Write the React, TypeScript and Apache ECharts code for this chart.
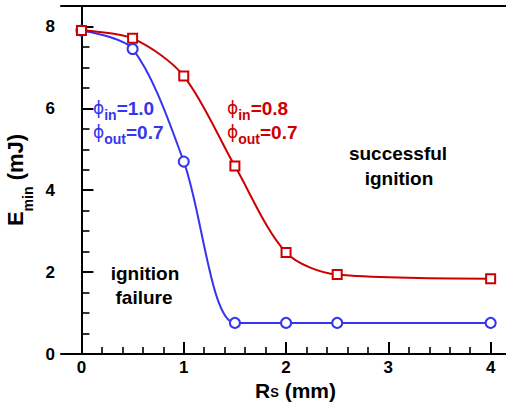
import React, { useEffect, useRef } from 'react';
import * as echarts from 'echarts';

const rsValues = [0, 0.5, 1, 1.5, 2, 2.5, 4];
const eminBlue = [7.9, 7.45, 4.7, 0.76, 0.76, 0.76, 0.76];
const eminRed = [7.9, 7.71, 6.79, 4.59, 2.48, 1.94, 1.84];
const xMajorTicks = [0, 1, 2, 3, 4];
const xMinorTicks = [0.2, 0.4, 0.6, 0.8, 1.2, 1.4, 1.6, 1.8, 2.2, 2.4, 2.6, 2.8, 3.2, 3.4, 3.6, 3.8];
const yMajorTicks = [0, 2, 4, 6, 8];
const yMinorTicks = [0.5, 1, 1.5, 2.5, 3, 3.5, 4.5, 5, 5.5, 6.5, 7, 7.5];

const BLUE = '#3535ef';
const RED = '#cc0000';
const FONT = '"Liberation Sans", Arial, sans-serif';
const X_MIN = -0.2;
const X_MAX = 4.15;
const Y_MIN = 0;
const Y_MAX = 8.5;

function phiRich(color: string) {
  return {
    p: { fontFamily: '"DejaVu Sans", sans-serif', fontSize: 17, fontWeight: 'normal', lineHeight: 28, fill: color },
    s: { fontFamily: FONT, fontSize: 14, fontWeight: 'bold', lineHeight: 14, verticalAlign: 'bottom', fill: color },
    b: { fontFamily: FONT, fontSize: 19, fontWeight: 'bold', lineHeight: 28, fill: color },
  };
}

function annot(text: string, x: number, y: number, color: string) {
  return {
    type: 'text',
    x,
    y,
    z: 10,
    style: { text, rich: phiRich(color), fill: color, align: 'left', verticalAlign: 'middle' },
  };
}

function label(text: string, x: number, y: number) {
  return {
    type: 'text',
    x,
    y,
    z: 10,
    style: {
      text,
      fill: '#000',
      fontFamily: FONT,
      fontSize: 19,
      fontWeight: 'bold',
      align: 'center',
      verticalAlign: 'middle',
    },
  };
}

export default function App() {
  const ref = useRef<HTMLDivElement>(null);
  useEffect(() => {
    if (!ref.current) return;
    const chart = echarts.init(ref.current, undefined, { renderer: 'svg' });
    const axisLineStyle = { color: '#000', width: 2 };
    const option: any = {
      animation: false,
      backgroundColor: '#fff',
      grid: { left: 61, right: 0, top: 6, bottom: 60, containLabel: false, outerBoundsMode: 'none' },
      xAxis: [
        {
          type: 'value',
          min: X_MIN,
          max: X_MAX,
          position: 'bottom',
          axisLine: { show: true, lineStyle: axisLineStyle },
          axisTick: { show: true, inside: true, length: 12, customValues: xMajorTicks, lineStyle: { color: '#000', width: 2 } },
          axisLabel: {
            customValues: xMajorTicks,
            color: '#000',
            fontFamily: FONT,
            fontSize: 17,
            fontWeight: 'bold',
            lineHeight: 14,
            margin: 6,
          },
          splitLine: { show: false },
          name: '{b|R}{s|S}{b| (mm)}',
          nameLocation: 'middle',
          nameGap: 27,
          nameMoveOverlap: false,
          nameTextStyle: {
            padding: [0, 0, 0, 24],
            rich: {
              b: { fontFamily: FONT, fontSize: 21, fontWeight: 'bold', color: '#000', lineHeight: 18 },
              s: { fontFamily: FONT, fontSize: 13, fontWeight: 'bold', color: '#000', lineHeight: 6, verticalAlign: 'bottom' },
            },
          },
        },
        {
          type: 'value',
          min: X_MIN,
          max: X_MAX,
          position: 'bottom',
          axisLine: { show: false },
          axisTick: { show: true, inside: true, length: 7, customValues: xMinorTicks, lineStyle: { color: '#000', width: 1.6 } },
          axisLabel: { show: false },
          splitLine: { show: false },
        },
        {
          type: 'value',
          min: X_MIN,
          max: X_MAX,
          position: 'top',
          axisLine: { show: true, lineStyle: axisLineStyle },
          axisTick: { show: false },
          axisLabel: { show: false },
          splitLine: { show: false },
        },
      ],
      yAxis: [
        {
          type: 'value',
          min: Y_MIN,
          max: Y_MAX,
          position: 'left',
          axisLine: { show: true, lineStyle: axisLineStyle },
          axisTick: { show: true, inside: true, length: 12, customValues: yMajorTicks, lineStyle: { color: '#000', width: 2 } },
          axisLabel: {
            customValues: yMajorTicks,
            color: '#000',
            fontFamily: FONT,
            fontSize: 17,
            fontWeight: 'bold',
            margin: 6,
          },
          splitLine: { show: false },
          name: '{b|E}{s|min}{b| (mJ)}',
          nameLocation: 'middle',
          nameRotate: 90,
          nameGap: 26,
          nameMoveOverlap: false,
          nameTextStyle: {
            rich: {
              b: { fontFamily: FONT, fontSize: 22, fontWeight: 'bold', color: '#000', lineHeight: 40 },
              s: { fontFamily: FONT, fontSize: 14, fontWeight: 'bold', color: '#000', lineHeight: 14, verticalAlign: 'bottom' },
            },
          },
        },
        {
          type: 'value',
          min: Y_MIN,
          max: Y_MAX,
          position: 'left',
          axisLine: { show: false },
          axisTick: { show: true, inside: true, length: 8, customValues: yMinorTicks, lineStyle: { color: '#000', width: 1.6 } },
          axisLabel: { show: false },
          splitLine: { show: false },
        },
      ],
      series: [
        {
          type: 'line',
          name: 'phi_in=1.0, phi_out=0.7',
          xAxisIndex: 0,
          yAxisIndex: 0,
          data: rsValues.map((x, i) => [x, eminBlue[i]]),
          smooth: 0.3,
          symbol: 'emptyCircle',
          symbolSize: 10,
          lineStyle: { color: BLUE, width: 2 },
          itemStyle: { color: BLUE, borderColor: BLUE, borderWidth: 2 },
          z: 3,
        },
        {
          type: 'line',
          name: 'phi_in=0.8, phi_out=0.7',
          xAxisIndex: 0,
          yAxisIndex: 0,
          data: rsValues.map((x, i) => [x, eminRed[i]]),
          smooth: 0.3,
          symbol: 'rect',
          symbolSize: 9,
          lineStyle: { color: RED, width: 2 },
          itemStyle: { color: '#fff', borderColor: RED, borderWidth: 2 },
          z: 4,
        },
      ],
      graphic: [
        annot('{p|\u03d5}{s|in}{b|=1.0}', 93, 108, BLUE),
        annot('{p|\u03d5}{s|out}{b|=0.7}', 93, 132, BLUE),
        annot('{p|\u03d5}{s|in}{b|=0.8}', 227, 108, RED),
        annot('{p|\u03d5}{s|out}{b|=0.7}', 227, 132, RED),
        label('successful', 398, 153),
        label('ignition', 399, 178),
        label('ignition', 145, 273),
        label('failure', 144, 297),
      ],
    };
    chart.setOption(option);
    return () => chart.dispose();
  }, []);
  return <div ref={ref} style={{ position: 'fixed', left: 0, top: 0, width: 506, height: 414, background: '#fff' }} />;
}
